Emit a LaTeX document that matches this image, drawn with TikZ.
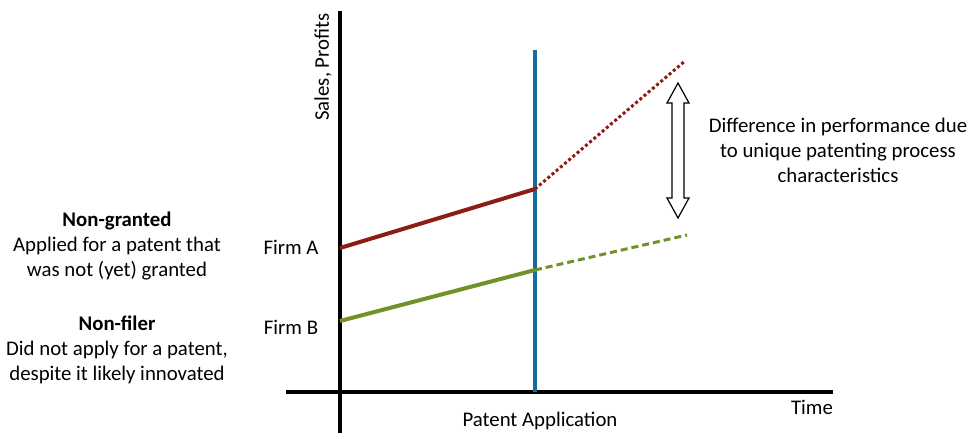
\documentclass[tikz,border=0pt]{standalone}
\usepackage{fontspec}
\setmainfont{Carlito}
\definecolor{redl}{RGB}{140,28,20}
\definecolor{greenl}{RGB}{112,146,40}
\definecolor{bluel}{RGB}{22,108,158}
\begin{document}
\begin{tikzpicture}[x=1pt,y=-1pt,
  lbl/.style={font=\fontsize{20.8}{25}\selectfont, inner sep=0pt, align=center},
  axisline/.style={line width=4pt, black},
  solidline/.style={line width=4pt},
  dotline/.style={line width=3pt, dash pattern=on 3pt off 2.5pt},
  dashline/.style={line width=3pt, dash pattern=on 7pt off 4pt}]
\useasboundingbox (0,0) rectangle (972,433);
% axes
\coordinate (ytop) at (340,11);
\coordinate (ybot) at (340,433);
\coordinate (xl) at (286,392);
\coordinate (xr) at (833,392);
\draw[axisline] (ytop) -- (ybot);
\draw[axisline] (xl) -- (xr);
% patent application line
\coordinate (ptop) at (535,50);
\coordinate (pbot) at (535,392);
\draw[bluel, line width=4pt] (ptop) -- (pbot);
% firm lines
\coordinate (a0) at (340,248);
\coordinate (a1) at (535,189);
\coordinate (a2) at (685,61);
\coordinate (b0) at (340,321);
\coordinate (b1) at (535,270);
\coordinate (b2) at (687,235);
\draw[redl, solidline] (a0) -- (a1);
\draw[redl, dotline] (a1) -- (a2);
\draw[greenl, solidline] (b0) -- (b1);
\draw[greenl, dashline] (b1) -- (b2);
% double arrow
\draw[fill=white, line width=1.2pt, line join=miter]
  (678,83) -- (689,103) -- (684,103) -- (684,198) -- (689,198) -- (678,218)
  -- (667,198) -- (672,198) -- (672,103) -- (667,103) -- cycle;
% labels
\node[lbl, rotate=90] (sp) at (323,67) {Sales, Profits};
\node[lbl] (firmA) at (291,247) {Firm A};
\node[lbl] (firmB) at (291,327) {Firm B};
\node[lbl] (ng) at (117,246) {\textbf{Non-granted}\\Applied for a patent that\\was not (yet) granted};
\node[lbl] (nf) at (117,350) {\textbf{Non-filer}\\Did not apply for a patent,\\despite it likely innovated};
\node[lbl] (diff) at (838,150) {Difference in performance due\\to unique patenting process\\characteristics};
\node[lbl] (pa) at (540,421) {Patent Application};
\node[lbl] (time) at (812,407) {Time};
\end{tikzpicture}
\end{document}
